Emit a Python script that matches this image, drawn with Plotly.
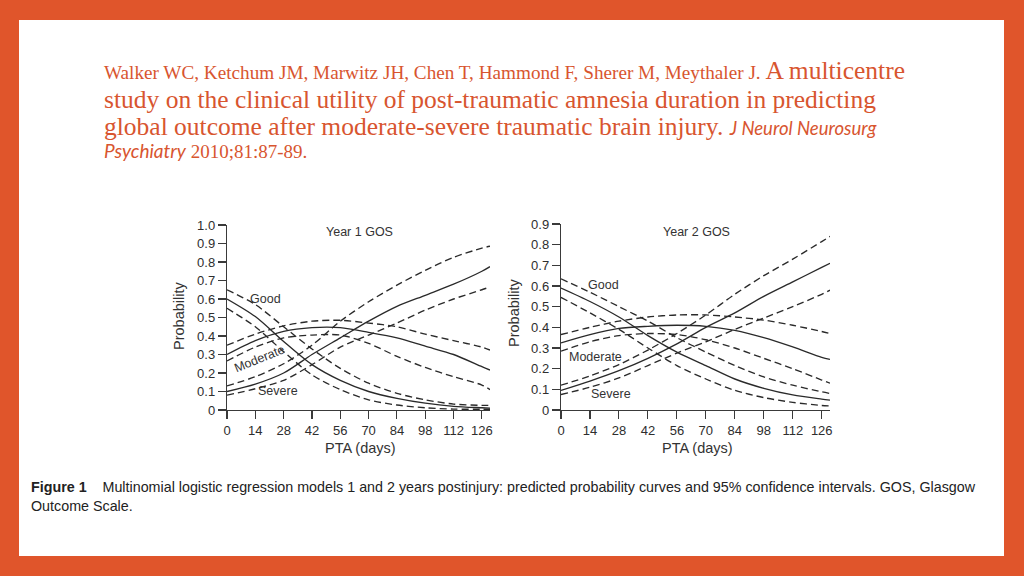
import plotly.graph_objects as go

# ---------------- data ----------------
pta_days = [0, 14, 28, 42, 56, 70, 84, 98, 112, 126, 130]

# Year 1 GOS
y1_good = [0.60, 0.505, 0.37, 0.245, 0.16, 0.10, 0.063, 0.037, 0.02, 0.012, 0.01]
y1_good_hi = [0.65, 0.57, 0.45, 0.33, 0.225, 0.145, 0.09, 0.055, 0.032, 0.025, 0.025]
y1_good_lo = [0.55, 0.45, 0.315, 0.19, 0.11, 0.055, 0.027, 0.012, 0.005, 0.004, 0.004]
y1_mod = [0.30, 0.375, 0.425, 0.445, 0.445, 0.42, 0.39, 0.345, 0.30, 0.234, 0.216]
y1_mod_hi = [0.35, 0.41, 0.455, 0.48, 0.485, 0.47, 0.45, 0.41, 0.375, 0.34, 0.324]
y1_mod_lo = [0.265, 0.34, 0.39, 0.405, 0.405, 0.36, 0.29, 0.23, 0.18, 0.135, 0.11]
y1_sev = [0.10, 0.14, 0.20, 0.30, 0.39, 0.48, 0.56, 0.62, 0.68, 0.75, 0.775]
y1_sev_hi = [0.13, 0.18, 0.25, 0.35, 0.48, 0.585, 0.675, 0.755, 0.825, 0.875, 0.885]
y1_sev_lo = [0.08, 0.115, 0.16, 0.245, 0.34, 0.405, 0.47, 0.54, 0.60, 0.65, 0.665]

# Year 2 GOS
y2_good = [0.59, 0.525, 0.45, 0.36, 0.28, 0.215, 0.15, 0.105, 0.073, 0.053, 0.048]
y2_good_hi = [0.635, 0.57, 0.50, 0.43, 0.35, 0.28, 0.215, 0.16, 0.12, 0.088, 0.08]
y2_good_lo = [0.545, 0.47, 0.39, 0.30, 0.215, 0.15, 0.095, 0.06, 0.037, 0.022, 0.02]
y2_mod = [0.325, 0.365, 0.395, 0.405, 0.41, 0.405, 0.385, 0.35, 0.305, 0.255, 0.245]
y2_mod_hi = [0.365, 0.40, 0.43, 0.45, 0.46, 0.46, 0.45, 0.435, 0.41, 0.38, 0.37]
y2_mod_lo = [0.285, 0.33, 0.36, 0.37, 0.365, 0.34, 0.30, 0.25, 0.20, 0.145, 0.13]
y2_sev = [0.095, 0.14, 0.19, 0.25, 0.32, 0.40, 0.47, 0.55, 0.62, 0.69, 0.71]
y2_sev_hi = [0.12, 0.165, 0.22, 0.29, 0.37, 0.46, 0.56, 0.65, 0.73, 0.815, 0.84]
y2_sev_lo = [0.075, 0.11, 0.155, 0.215, 0.275, 0.33, 0.39, 0.445, 0.50, 0.56, 0.58]

x_ticks = [0, 14, 28, 42, 56, 70, 84, 98, 112, 126]
y1_ticks = [0, 0.1, 0.2, 0.3, 0.4, 0.5, 0.6, 0.7, 0.8, 0.9, 1.0]
y1_ticktext = ["0", "0.1", "0.2", "0.3", "0.4", "0.5", "0.6", "0.7", "0.8", "0.9", "1.0"]
y2_ticks = [0, 0.1, 0.2, 0.3, 0.4, 0.5, 0.6, 0.7, 0.8, 0.9]
y2_ticktext = ["0", "0.1", "0.2", "0.3", "0.4", "0.5", "0.6", "0.7", "0.8", "0.9"]

# ---------------- figure ----------------
W, H = 1024, 576
ORANGE = "#E0552B"
TXT = "#D8552F"
INK = "#2a2a2a"
AX = "#3a3a3a"

def px(x):
    return x / W

def py(y):
    return 1 - y / H

fig = go.Figure()

def add_set(xa, ya, series):
    for vals, dashed in series:
        fig.add_trace(go.Scatter(
            x=pta_days, y=vals, xaxis=xa, yaxis=ya, mode="lines",
            line=dict(color=INK, width=1.35, shape="spline", smoothing=0.8,
                      dash="7px,4px" if dashed else "solid"),
            hoverinfo="skip", showlegend=False))

add_set("x", "y", [
    (y1_good, False), (y1_good_hi, True), (y1_good_lo, True),
    (y1_mod, False), (y1_mod_hi, True), (y1_mod_lo, True),
    (y1_sev, False), (y1_sev_hi, True), (y1_sev_lo, True)])
add_set("x2", "y2", [
    (y2_good, False), (y2_good_hi, True), (y2_good_lo, True),
    (y2_mod, False), (y2_mod_hi, True), (y2_mod_lo, True),
    (y2_sev, False), (y2_sev_hi, True), (y2_sev_lo, True)])

tickfont = dict(family="Liberation Sans, Arial, sans-serif", size=13, color="#2e2e2e")

def xaxis_cfg(d0, d1):
    return dict(domain=[px(d0), px(d1)], range=[0, 130], tickvals=x_ticks,
                showline=True, linecolor=AX, linewidth=1.2, ticks="outside",
                ticklen=8, tickcolor=AX, tickwidth=1.1, showgrid=False,
                zeroline=False, tickfont=tickfont, automargin=False, fixedrange=True)

def yaxis_cfg(top, rng, tv, tt, anchor):
    return dict(domain=[py(410), py(top)], range=rng, tickvals=tv, ticktext=tt,
                showline=True, linecolor=AX, linewidth=1.2, ticks="outside",
                ticklen=8, tickcolor=AX, tickwidth=1.1, showgrid=False,
                zeroline=False, tickfont=tickfont, anchor=anchor, automargin=False,
                fixedrange=True)

fig.update_layout(
    width=W, height=H, autosize=False,
    margin=dict(l=0, r=0, t=0, b=0, pad=0, autoexpand=False),
    paper_bgcolor=ORANGE, plot_bgcolor="rgba(0,0,0,0)",
    hovermode=False,
    xaxis=dict(xaxis_cfg(227, 490), anchor="y"),
    yaxis=yaxis_cfg(225, [0, 1.0], y1_ticks, y1_ticktext, "x"),
    xaxis2=dict(xaxis_cfg(561, 830), anchor="y2"),
    yaxis2=yaxis_cfg(224, [0, 0.9], y2_ticks, y2_ticktext, "x2"),
)

fig.add_shape(type="rect", xref="paper", yref="paper",
              x0=px(19), x1=px(1004), y0=py(556), y1=py(20),
              fillcolor="white", line=dict(width=0), layer="below")

annos = []
def txt(text, x, y, size, family, color, xanchor="left", angle=0, yanchor="middle"):
    annos.append(dict(text=text, x=px(x), y=py(y), xref="paper", yref="paper",
                      xanchor=xanchor, yanchor=yanchor, showarrow=False,
                      textangle=angle, align="left",
                      font=dict(size=size, family=family, color=color)))

SERIF = "Liberation Serif, Times New Roman, serif"
txt("Walker WC, Ketchum JM, Marwitz JH, Chen T, Hammond F, Sherer M, Meythaler J. "
    "<span style='font-size:25.5px'>A multicentre</span>", 102, 71, 19.2, SERIF, TXT)
txt("study on the clinical utility of post-traumatic amnesia duration in predicting",
    102, 99, 25.5, SERIF, TXT)
txt("global outcome after moderate-severe traumatic brain injury. "
    "<span style=\"font-family:Lato, sans-serif;font-size:18.5px\"><i>J Neurol Neurosurg</i></span>",
    102, 126, 25.5, SERIF, TXT)
txt("<span style=\"font-family:Lato, sans-serif\"><i>Psychiatry</i></span> 2010;81:87-89.",
    102, 150, 19, SERIF, TXT)

# axis titles
LAB = "Liberation Sans, Arial, sans-serif"
txt("Probability", 179, 316, 14.5, LAB, "#333", xanchor="center", angle=-90)
txt("Probability", 514, 313, 14.5, LAB, "#333", xanchor="center", angle=-90)
txt("PTA (days)", 360, 448, 14.5, LAB, "#333", xanchor="center")
txt("PTA (days)", 697, 448, 14.5, LAB, "#333", xanchor="center")

# panel labels
txt("Year 1 GOS", 359, 232, 12.5, LAB, "#333", xanchor="center")
txt("Year 2 GOS", 696, 232, 12.5, LAB, "#333", xanchor="center")
txt("Good", 248, 299, 12.5, LAB, "#333")
txt("Moderate", 259, 359, 12.5, LAB, "#333", xanchor="center", angle=-22)
txt("Severe", 256, 391, 12.5, LAB, "#333")
txt("Good", 586, 285, 12.5, LAB, "#333")
txt("Moderate", 567, 357, 12.5, LAB, "#333")
txt("Severe", 589, 394, 12.5, LAB, "#333")

CAP = "Liberation Sans Narrow, Arial Narrow, Liberation Sans, sans-serif"
txt("<b>Figure 1</b>&nbsp;&nbsp;&nbsp; Multinomial logistic regression models 1 and 2 years postinjury: "
    "predicted probability curves and 95% confidence intervals. GOS, Glasgow<br>Outcome Scale.",
    29, 496, 14.3, CAP, "#222")

fig.update_layout(annotations=annos)
fig.write_html("out.html",
               config={"displayModeBar": False, "staticPlot": True},
               post_script="document.body.style.margin='0';document.body.style.overflow='hidden';")
